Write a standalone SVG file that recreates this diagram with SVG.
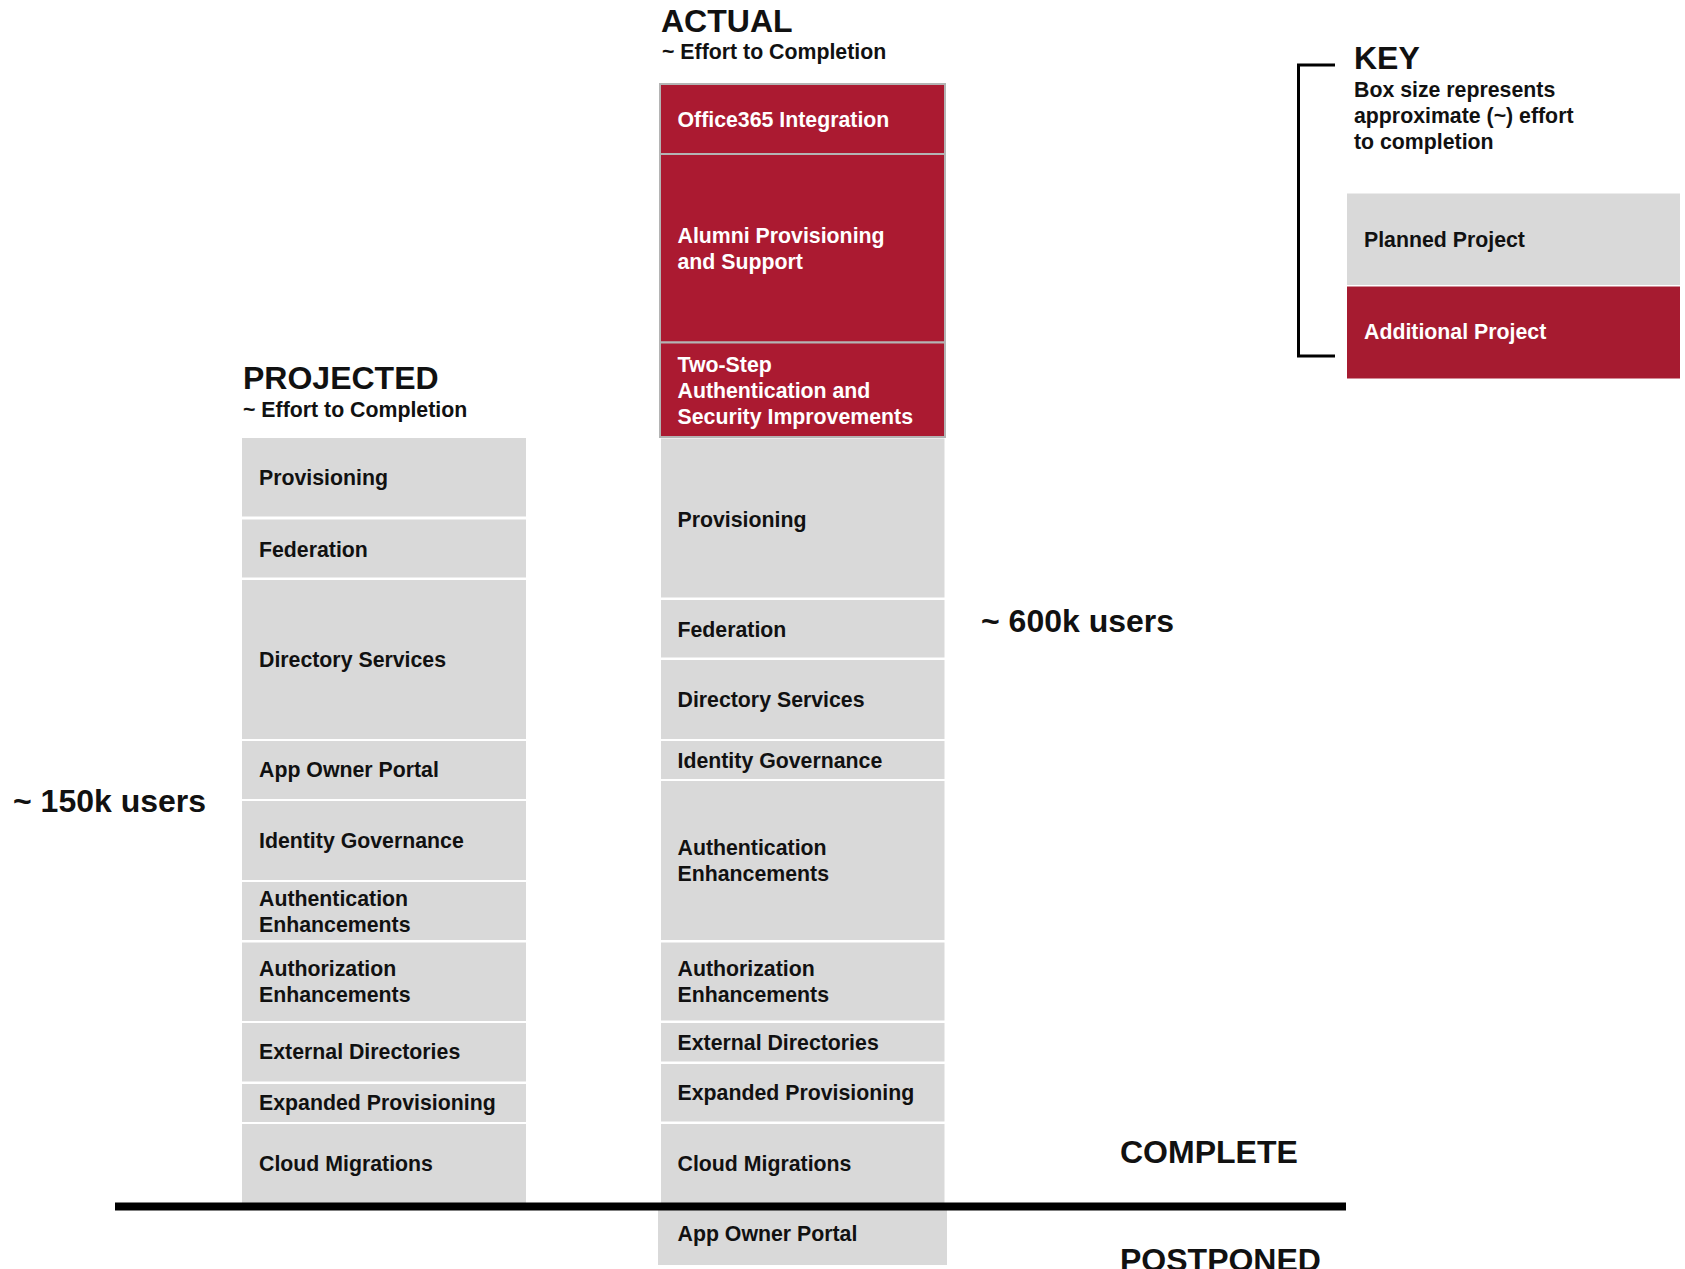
<svg xmlns="http://www.w3.org/2000/svg" width="1685" height="1269" viewBox="0 0 1685 1269">
  <style>
    text { font-family: "Liberation Sans", Arial, sans-serif; font-weight: bold; fill: #111; }
    .h { font-size: 32px; }
    .s { font-size: 21.3px; }
    .lbl { font-size: 21.3px; }
    .big { font-size: 32px; }
    .w { fill: #ffffff; }
    .g { fill: #d9d9d9; }
    .r { fill: #ab1a31; stroke: #b4b4b4; stroke-width: 2; }
  </style>

  <rect width="1685" height="1269" fill="#ffffff"/>

  <!-- column headings -->
  <g id="projected-heading">
    <text class="h" x="243" y="389">PROJECTED</text>
    <text class="s" x="243" y="417">~ Effort to Completion</text>
  </g>
  <g id="actual-heading">
    <text class="h" x="661" y="31.5">ACTUAL</text>
    <text class="s" x="662" y="59">~ Effort to Completion</text>
  </g>

  <!-- projected column -->
  <g id="p-provisioning"><rect class="g" x="242" y="438" width="284" height="78.5"/><text class="lbl" x="259" y="485">Provisioning</text></g>
  <g id="p-federation"><rect class="g" x="242" y="519.5" width="284" height="58"/><text class="lbl" x="259" y="556.5">Federation</text></g>
  <g id="p-directory"><rect class="g" x="242" y="580" width="284" height="159"/><text class="lbl" x="259" y="666.5">Directory Services</text></g>
  <g id="p-appowner"><rect class="g" x="242" y="741" width="284" height="58"/><text class="lbl" x="259" y="777">App Owner Portal</text></g>
  <g id="p-governance"><rect class="g" x="242" y="801" width="284" height="79"/><text class="lbl" x="259" y="848">Identity Governance</text></g>
  <g id="p-authn"><rect class="g" x="242" y="882" width="284" height="58"/><text class="lbl" x="259" y="906">Authentication</text><text class="lbl" x="259" y="932">Enhancements</text></g>
  <g id="p-authz"><rect class="g" x="242" y="942.5" width="284" height="78.5"/><text class="lbl" x="259" y="976">Authorization</text><text class="lbl" x="259" y="1001.5">Enhancements</text></g>
  <g id="p-external"><rect class="g" x="242" y="1023" width="284" height="58.5"/><text class="lbl" x="259" y="1059">External Directories</text></g>
  <g id="p-expanded"><rect class="g" x="242" y="1084" width="284" height="38"/><text class="lbl" x="259" y="1110">Expanded Provisioning</text></g>
  <g id="p-cloud"><rect class="g" x="242" y="1124" width="284" height="79"/><text class="lbl" x="259" y="1170.5">Cloud Migrations</text></g>

  <!-- actual column: additional projects -->
  <g id="a-office365"><rect class="r" x="660" y="84" width="285" height="70"/><text class="lbl w" x="677.5" y="126.5">Office365 Integration</text></g>
  <g id="a-alumni"><rect class="r" x="660" y="154" width="285" height="188.5"/><text class="lbl w" x="677.5" y="242.5">Alumni Provisioning</text><text class="lbl w" x="677.5" y="268.5">and Support</text></g>
  <g id="a-twostep"><rect class="r" x="660" y="342.5" width="285" height="94.5"/><text class="lbl w" x="677.5" y="371.5">Two-Step</text><text class="lbl w" x="677.5" y="398">Authentication and</text><text class="lbl w" x="677.5" y="424">Security Improvements</text></g>

  <!-- actual column: planned projects -->
  <g id="a-provisioning"><rect class="g" x="661" y="438.5" width="283.5" height="159"/><text class="lbl" x="677.5" y="526.5">Provisioning</text></g>
  <g id="a-federation"><rect class="g" x="661" y="600" width="283.5" height="57.5"/><text class="lbl" x="677.5" y="637">Federation</text></g>
  <g id="a-directory"><rect class="g" x="661" y="660" width="283.5" height="79"/><text class="lbl" x="677.5" y="706.5">Directory Services</text></g>
  <g id="a-governance"><rect class="g" x="661" y="741" width="283.5" height="38"/><text class="lbl" x="677.5" y="768">Identity Governance</text></g>
  <g id="a-authn"><rect class="g" x="661" y="781" width="283.5" height="159"/><text class="lbl" x="677.5" y="855">Authentication</text><text class="lbl" x="677.5" y="881">Enhancements</text></g>
  <g id="a-authz"><rect class="g" x="661" y="942.5" width="283.5" height="78"/><text class="lbl" x="677.5" y="976">Authorization</text><text class="lbl" x="677.5" y="1001.5">Enhancements</text></g>
  <g id="a-external"><rect class="g" x="661" y="1023" width="283.5" height="38.5"/><text class="lbl" x="677.5" y="1050">External Directories</text></g>
  <g id="a-expanded"><rect class="g" x="661" y="1064" width="283.5" height="57.5"/><text class="lbl" x="677.5" y="1100">Expanded Provisioning</text></g>
  <g id="a-cloud"><rect class="g" x="661" y="1124" width="283.5" height="79"/><text class="lbl" x="677.5" y="1170.5">Cloud Migrations</text></g>
  <g id="a-appowner"><rect class="g" x="658" y="1210" width="289" height="55"/><text class="lbl" x="677.5" y="1240.5">App Owner Portal</text></g>

  <!-- user counts and status labels -->
  <g id="users-150k"><text class="big" x="13" y="812">~ 150k users</text></g>
  <g id="users-600k"><text class="big" x="981" y="632">~ 600k users</text></g>
  <g id="status-complete"><text class="h" x="1120" y="1163">COMPLETE</text></g>
  <!-- runs off the bottom edge of the page -->
  <g id="status-postponed"><text class="h" x="1120" y="1271">POSTPONED</text></g>

  <!-- key -->
  <g id="key">
    <text class="h" x="1354" y="69">KEY</text>
    <text class="s" x="1354" y="96.5">Box size represents</text>
    <text class="s" x="1354" y="122.5">approximate (~) effort</text>
    <text class="s" x="1354" y="148.5">to completion</text>
  </g>
  <g id="key-planned"><rect class="g" x="1347" y="193.5" width="333" height="91.5"/><text class="lbl" x="1364" y="246.5">Planned Project</text></g>
  <g id="key-additional"><rect x="1347" y="286.5" width="333" height="92" fill="#a61b30"/><text class="lbl w" x="1364" y="339">Additional Project</text></g>

  <!-- divider and key bracket -->
  <g id="connectors" fill="none" stroke="#000">
    <rect x="115" y="1202.5" width="1231" height="8" fill="#000" stroke="none"/>
    <path d="M1335 65 H1298.5 V356 H1335" stroke-width="3"/>
  </g>
</svg>
